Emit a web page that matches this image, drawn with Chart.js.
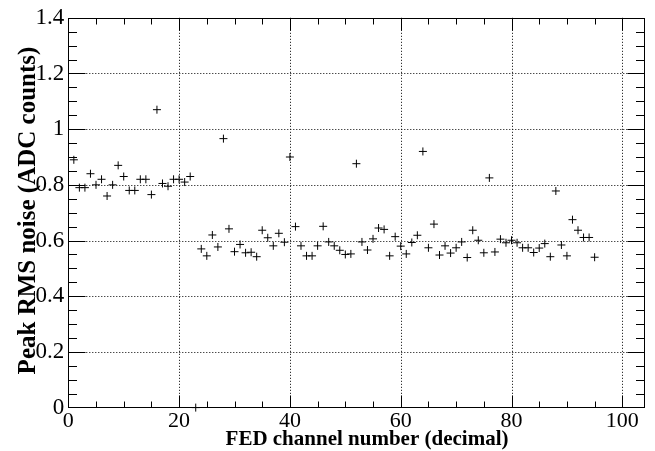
<!DOCTYPE html>
<html><head><meta charset="utf-8">
<script src="https://cdn.jsdelivr.net/npm/chart.js@4/dist/chart.umd.min.js"></script>
<style>html,body{margin:0;padding:0;background:#fff}#wrap{width:655px;height:451px}</style>
</head><body><div id="wrap"><canvas id="c" width="655" height="451"></canvas></div>
<script>
const channels = [1,2,3,4,5,6,7,8,9,10,11,12,13,14,15,16,17,18,19,20,21,22,23,24,25,26,27,28,29,30,31,32,33,34,35,36,37,38,39,40,41,42,43,44,45,46,47,48,49,50,51,52,53,54,55,56,57,58,59,60,61,62,63,64,65,66,67,68,69,70,71,72,73,74,75,76,77,78,79,80,81,82,83,84,85,86,87,88,89,90,91,92,93,94,95];
const noise = [0.89,0.79,0.79,0.84,0.80,0.82,0.76,0.80,0.87,0.83,0.78,0.78,0.82,0.82,0.765,1.07,0.805,0.795,0.82,0.82,0.81,0.83,0,0.57,0.545,0.62,0.577,0.966,0.642,0.56,0.586,0.556,0.558,0.542,0.637,0.61,0.581,0.626,0.594,0.90,0.65,0.581,0.545,0.545,0.581,0.651,0.595,0.581,0.565,0.55,0.552,0.876,0.595,0.566,0.606,0.645,0.64,0.545,0.614,0.58,0.552,0.593,0.619,0.92,0.574,0.659,0.548,0.581,0.555,0.574,0.595,0.539,0.637,0.601,0.556,0.825,0.559,0.605,0.592,0.601,0.592,0.574,0.574,0.557,0.573,0.589,0.542,0.778,0.584,0.545,0.675,0.637,0.611,0.611,0.54];
const xTickValues = [0,20,40,60,80,100];
const yTickValues = [0,0.2,0.4,0.6,0.8,1.0,1.2,1.4];
const xRange = [0,104];
const yRange = [0,1.4];
const xTitle = 'FED channel number (decimal)';
const yTitle = 'Peak RMS noise (ADC counts)';

const points = channels.map((c,i)=>({x:c,y:noise[i]}));

const rootFrame = {
  id:'rootFrame',
  beforeDatasetsDraw(chart){
    const {ctx, chartArea:a, scales:{x,y}} = chart;
    ctx.save();
    ctx.strokeStyle='#000'; ctx.lineWidth=1; ctx.setLineDash([1,2]);
    xTickValues.forEach(v=>{ if(v<=xRange[0]||v>=xRange[1]) return;
      const px=Math.round(x.getPixelForValue(v))+0.5;
      ctx.beginPath(); ctx.moveTo(px,a.top); ctx.lineTo(px,a.bottom); ctx.stroke();});
    yTickValues.forEach(v=>{ if(v<=yRange[0]||v>=yRange[1]) return;
      const py=Math.round(y.getPixelForValue(v))+0.5;
      ctx.beginPath(); ctx.moveTo(a.left,py); ctx.lineTo(a.right,py); ctx.stroke();});
    ctx.restore();
  },
  afterDatasetsDraw(chart){
    const {ctx, chartArea:a, scales:{x,y}} = chart;
    ctx.save();
    ctx.strokeStyle='#000'; ctx.lineWidth=1; ctx.setLineDash([]);
    const L=Math.round(a.left)+0.5, R=Math.round(a.right)-0.5, T=Math.round(a.top)+0.5, B=Math.round(a.bottom)-0.5;
    ctx.strokeRect(L,T,R-L,B-T);
    ctx.beginPath();
    for(let k=1; k*0.05<yRange[1]-1e-6; k++){
      const v=k*0.05;
      const major = k%4===0;
      const len = major?17:8.5;
      const py=Math.round(y.getPixelForValue(v))+0.5;
      ctx.moveTo(L,py); ctx.lineTo(L+len,py);
      ctx.moveTo(R,py); ctx.lineTo(R-len,py);
    }
    for(let k=1; k*5<xRange[1]-1e-6; k++){
      const v=k*5;
      const major = k%4===0;
      const len = major?12:6;
      const px=Math.round(x.getPixelForValue(v))+0.5;
      ctx.moveTo(px,B); ctx.lineTo(px,B-len);
      ctx.moveTo(px,T); ctx.lineTo(px,T+len);
    }
    ctx.stroke();
    ctx.fillStyle='#000';
    ctx.font='bold 21px "Liberation Serif"';
    ctx.textAlign='center'; ctx.textBaseline='alphabetic';
    ctx.fillText(xTitle, 367, 445);
    ctx.translate(35, 210.5);
    ctx.rotate(-Math.PI/2);
    ctx.font='bold 25px "Liberation Serif"';
    ctx.fillText(yTitle, 0, 0);
    ctx.restore();
  }
};

new Chart(document.getElementById('c'), {
  type:'scatter',
  data:{datasets:[{data:points, pointStyle:'cross', radius:4, hoverRadius:4, borderColor:'#000', backgroundColor:'#000', borderWidth:1, showLine:false, clip:false}]},
  options:{
    responsive:false, animation:false, devicePixelRatio:1,
    layout:{padding:{left:0,right:10.5,top:13.4,bottom:0}},
    plugins:{legend:{display:false}, tooltip:{enabled:false}},
    scales:{
      x:{type:'linear', min:xRange[0], max:xRange[1],
        afterBuildTicks:s=>{s.ticks=xTickValues.map(v=>({value:v}));},
        afterFit:s=>{s.height=43.4;},
        ticks:{font:{family:'Liberation Serif', size:22}, color:'#000', padding:0, maxRotation:0, autoSkip:false},
        grid:{display:false, drawTicks:false}, border:{display:false}},
      y:{type:'linear', min:yRange[0], max:yRange[1],
        afterBuildTicks:s=>{s.ticks=yTickValues.map(v=>({value:v}));},
        afterFit:s=>{s.width=68.3;},
        ticks:{font:{family:'Liberation Serif', size:23}, color:'#000', padding:4, autoSkip:false,
          callback:v=>String(Math.round(v*10)/10)},
        grid:{display:false, drawTicks:false}, border:{display:false}}
    }
  },
  plugins:[rootFrame]
});
</script></body></html>
